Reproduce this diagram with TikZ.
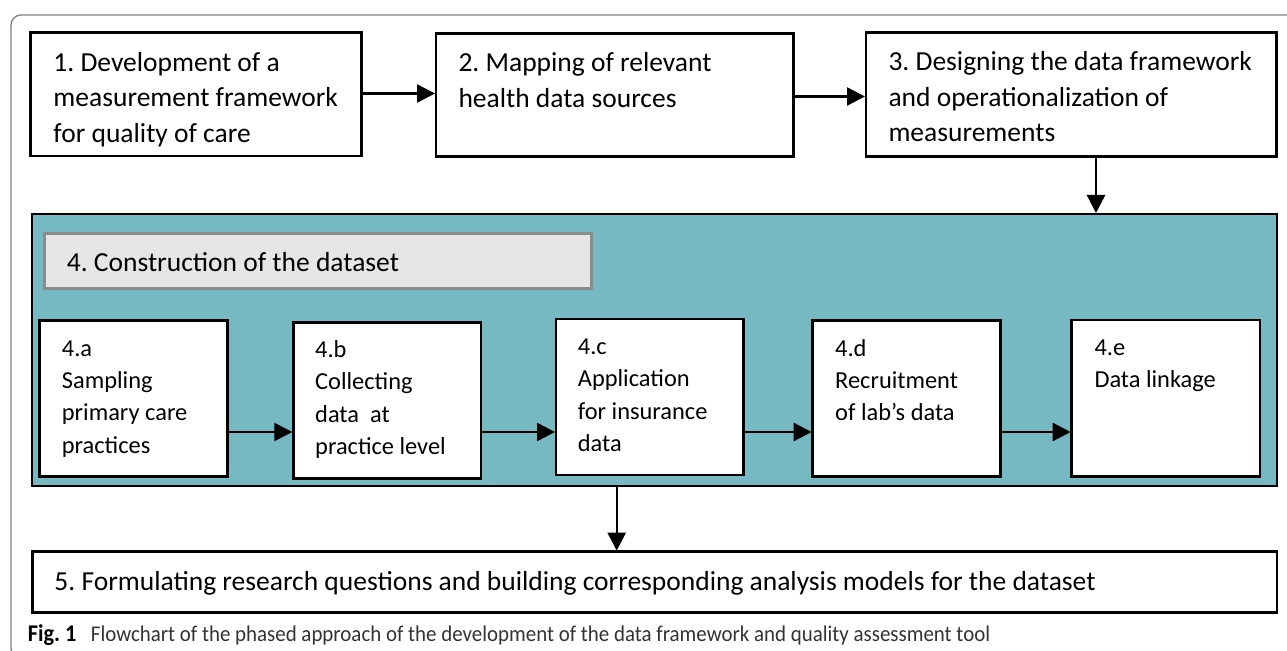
\documentclass[tikz,border=0pt]{standalone}
\usepackage{fontspec}
\setmainfont{Carlito}
\newfontfamily\capfont[FakeStretch=0.93]{Carlito}
\usetikzlibrary{arrows.meta}
\definecolor{tealbg}{HTML}{77B9C2}
\definecolor{graybox}{HTML}{E6E6E6}
\definecolor{grayline}{HTML}{8C8C8C}
\definecolor{framegray}{HTML}{7F7F7F}
\definecolor{captext}{HTML}{333333}
\newcommand\bigtext{\fontsize{27.5bp}{35.5bp}\selectfont\frenchspacing}
\newcommand\smalltext{\fontsize{24.4bp}{32.3bp}\selectfont\frenchspacing}
\newcommand\captionsize{\fontsize{22.5bp}{27bp}\selectfont\frenchspacing}
\tikzset{
  box/.style={draw=black, line width=2.6bp, fill=white, inner sep=0pt, outer sep=0pt, anchor=north west},
  bigtxt/.style={font=\bigtext, align=left, inner sep=0pt, anchor=north west},
  smalltxt/.style={font=\smalltext, align=left, inner sep=0pt, anchor=north west},
  linetxt/.style={font=\bigtext, inner sep=0pt, anchor=base west},
  captxt/.style={font=\capfont\captionsize, text=captext, inner sep=0pt, anchor=base west},
  arr/.style={line width=2.4bp, -{Triangle[length=18bp,width=18bp]}, shorten >=1bp}
}
\begin{document}
\frenchspacing
\begin{tikzpicture}[x=1bp,y=-1bp]
\useasboundingbox (0,0) rectangle (1287,651);
% outer frame
\begin{scope}
\clip (0,0) rectangle (1287,651);
\draw[framegray, line width=1.3bp, rounded corners=10bp] (60,658) -- (11,658) -- (11,15) -- (1300,15);
\end{scope}

% top row
\node[box, minimum width=331bp, minimum height=123.7bp] (b1) at (30.7,32.3) {};
\node[box, minimum width=357.3bp, minimum height=123.4bp] (b2) at (436,33.3) {};
\node[box, minimum width=410.7bp, minimum height=124.4bp] (b3) at (866,32.3) {};

\node[bigtxt] (t1) at (53.3,46.2) {\strut 1. Development of a\\ measurement framework\\ for quality of care};
\node[bigtxt] (t2) at (458.3,46.9) {\strut 2. Mapping of relevant\\ health data sources};
\node[bigtxt] (t3) at (888.3,45.9) {\strut 3. Designing the data framework\\ and operationalization of\\ measurements};

% construction block
\node[box, fill=tealbg, minimum width=1245bp, minimum height=272bp] (b4) at (32,214) {};
\node[box, fill=graybox, draw=grayline, minimum width=547.4bp, minimum height=55bp] (g4) at (44.3,233.3) {};
\node[linetxt] (t4) at (66.7,271) {4. Construction of the dataset};

\node[box, minimum width=188bp, minimum height=156bp] (b4a) at (39.3,320.7) {};
\node[box, minimum width=187.7bp, minimum height=155.6bp] (b4b) at (293.3,322.7) {};
\node[box, minimum width=187.3bp, minimum height=156bp] (b4c) at (556,319) {};
\node[box, minimum width=188bp, minimum height=156bp] (b4d) at (812.7,320.7) {};
\node[box, minimum width=188.3bp, minimum height=156.7bp] (b4e) at (1071.7,320) {};

\node[smalltxt] (t4a) at (61.7,333.4) {\strut 4.a\\ Sampling\\ primary care\\ practices};
\node[smalltxt] (t4b) at (315,334.7) {\strut 4.b\\ Collecting\\ data\ \ at\\ practice level};
\node[smalltxt] (t4c) at (577.7,331.7) {\strut 4.c\\ Application\\ for insurance\\ data};
\node[smalltxt] (t4d) at (835,333.4) {\strut 4.d\\ Recruitment\\ of lab’s data};
\node[smalltxt] (t4e) at (1094.3,332.7) {\strut 4.e\\ Data linkage};

% final box
\node[box, minimum width=1244.7bp, minimum height=60.6bp] (b5) at (32.3,551.7) {};
\node[linetxt] (t5) at (54.3,590) {5. Formulating research questions and building corresponding analysis models for the dataset};

% caption
\node[captxt, font=\capfont\fontsize{24bp}{27bp}\selectfont\bfseries, text=black] (cap1) at (27.7,641.7) {Fig. 1};
\node[captxt] (cap2) at (90.7,641.7) {Flowchart of the phased approach of the development of the data framework and quality assessment tool};

% connector helpers
\coordinate (r1) at (0,93.5);
\coordinate (r2) at (0,96.5);
\coordinate (r4) at (0,432);
\coordinate (c3) at (1096,0);
\coordinate (c5) at (616.7,0);

% connectors
\draw[arr] (b1.east |- r1) -- (b2.west |- r1);
\draw[arr] (b2.east |- r2) -- (b3.west |- r2);
\draw[arr] (b3.south -| c3) -- (b4.north -| c3);
\draw[arr] (b4a.east |- r4) -- (b4b.west |- r4);
\draw[arr] (b4b.east |- r4) -- (b4c.west |- r4);
\draw[arr] (b4c.east |- r4) -- (b4d.west |- r4);
\draw[arr] (b4d.east |- r4) -- (b4e.west |- r4);
\draw[arr] (b4.south -| c5) -- (b5.north -| c5);
\end{tikzpicture}
\end{document}
